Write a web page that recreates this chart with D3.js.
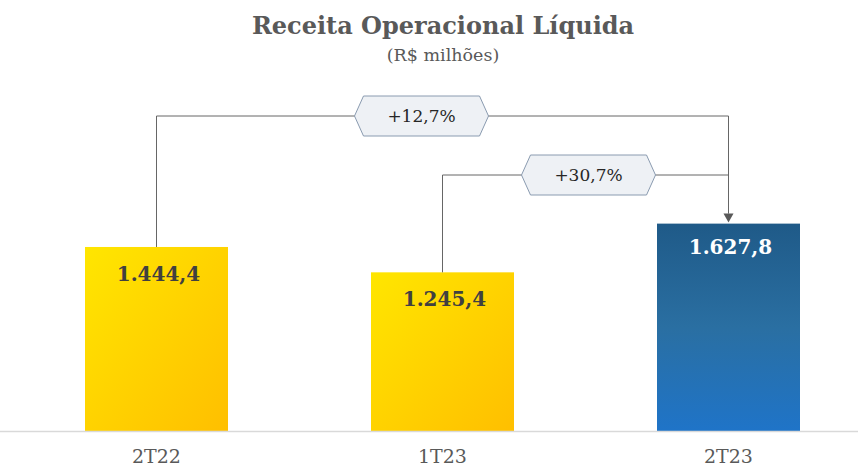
<!DOCTYPE html>
<html>
<head>
<meta charset="utf-8">
<script src="https://cdn.jsdelivr.net/npm/d3@7"></script>
<style>
  body { margin: 0; background: #fff; }
  svg { display: block; }
  text { font-family: "DejaVu Serif", "Liberation Serif", serif; }
</style>
</head>
<body>
<div id="chart"></div>
<script>
// data
const periods = ["2T22", "1T23", "2T23"];
const revenue = [1444.4, 1245.4, 1627.8];
const valueLabels = ["1.444,4", "1.245,4", "1.627,8"];
const growthLabels = ["+12,7%", "+30,7%"];   // 2T22 -> 2T23, 1T23 -> 2T23
const growthFrom = ["2T22", "1T23"];

const W = 858, H = 470;

const svg = d3.select("#chart").append("svg")
    .attr("width", W).attr("height", H);

const defs = svg.append("defs");
let yellow = defs.append("linearGradient").attr("id", "gYellow")
    .attr("x1", "0").attr("y1", "0").attr("x2", "1").attr("y2", "1");
yellow.append("stop").attr("offset", "0").attr("stop-color", "#ffe600");
yellow.append("stop").attr("offset", "1").attr("stop-color", "#ffbf00");

let blue = defs.append("linearGradient").attr("id", "gBlue")
    .attr("x1", "0").attr("y1", "0").attr("x2", "0").attr("y2", "1");
blue.append("stop").attr("offset", "0").attr("stop-color", "#1f5a88");
blue.append("stop").attr("offset", "0.5").attr("stop-color", "#2a6fa2");
blue.append("stop").attr("offset", "1").attr("stop-color", "#1f74c8");

let x = d3.scaleBand().domain(periods).range([13.5, 871.5])
    .paddingInner(0.5).paddingOuter(0.25);
let y = d3.scaleLinear().domain([0, 3383]).range([431, 0]);

// title
svg.append("text").attr("x", 443).attr("y", 34)
    .attr("text-anchor", "middle").attr("font-size", 24).attr("font-weight", "bold")
    .attr("fill", "#595959").text("Receita Operacional Líquida");
svg.append("text").attr("x", 443).attr("y", 61)
    .attr("text-anchor", "middle").attr("font-size", 17.5)
    .attr("fill", "#595959").text("(R$ milhões)");

// bars
svg.selectAll("rect.bar").data(periods).enter().append("rect")
    .attr("class", "bar")
    .attr("x", d => x(d))
    .attr("y", (d, i) => y(revenue[i]))
    .attr("width", x.bandwidth())
    .attr("height", (d, i) => y(0) - y(revenue[i]))
    .attr("fill", (d, i) => i == 2 ? "url(#gBlue)" : "url(#gYellow)");

// baseline
svg.append("line").attr("x1", 0).attr("x2", W)
    .attr("y1", y(0) + 0.5).attr("y2", y(0) + 0.5)
    .attr("stroke", "#d9d9d9").attr("stroke-width", 1.5);

// value labels
svg.selectAll("text.val").data(periods).enter().append("text")
    .attr("class", "val")
    .attr("x", d => x(d) + x.bandwidth() / 2 + 2)
    .attr("y", (d, i) => y(revenue[i]) + (i == 2 ? 30 : 34))
    .attr("text-anchor", "middle").attr("font-size", 20).attr("font-weight", "bold")
    .attr("fill", (d, i) => i == 2 ? "#ffffff" : "#404040")
    .text((d, i) => valueLabels[i]);

// category labels
svg.selectAll("text.cat").data(periods).enter().append("text")
    .attr("class", "cat")
    .attr("x", d => x(d) + x.bandwidth() / 2)
    .attr("y", 463)
    .attr("text-anchor", "middle").attr("font-size", 19)
    .attr("fill", "#595959").text(d => d);

// connectors
const target = "2T23";
const tx = x(target) + x.bandwidth() / 2;
const connY = [116, 175];
const connLayer = svg.append("g");

growthFrom.forEach((p, i) => {
    let sx = x(p) + x.bandwidth() / 2;
    let sy = y(revenue[periods.indexOf(p)]);
    let endY = i == 0 ? y(revenue[2]) - 10 : connY[0];
    connLayer.append("path")
        .attr("d", `M${sx},${sy}V${connY[i]}H${tx}` + (i == 0 ? `V${endY}` : ""))
        .attr("fill", "none").attr("stroke", "#666").attr("stroke-width", 1);
});

// arrow head
let tipY = y(revenue[2]) - 1;
connLayer.append("path")
    .attr("d", `M${tx - 5},${tipY - 9}L${tx + 5},${tipY - 9}L${tx},${tipY}Z`)
    .attr("fill", "#595959");

// hexagon growth labels
const hexCx = [421.5, 588.5];
const hexW = 134, hexH = 40, inset = 9;
growthLabels.forEach((lbl, i) => {
    let cx = hexCx[i], cy = connY[i];
    let l = cx - hexW / 2, r = cx + hexW / 2;
    let pts = [[l, cy], [l + inset, cy - hexH / 2], [r - inset, cy - hexH / 2],
               [r, cy], [r - inset, cy + hexH / 2], [l + inset, cy + hexH / 2]];
    svg.append("polygon")
        .attr("points", pts.map(p => p.join(",")).join(" "))
        .attr("fill", "#eef1f5").attr("stroke", "#8a9bb0").attr("stroke-width", 1);
    svg.append("text").attr("x", cx).attr("y", cy + 6)
        .attr("text-anchor", "middle").attr("font-size", 17)
        .attr("fill", "#262626").text(lbl);
});
</script>
</body>
</html>
